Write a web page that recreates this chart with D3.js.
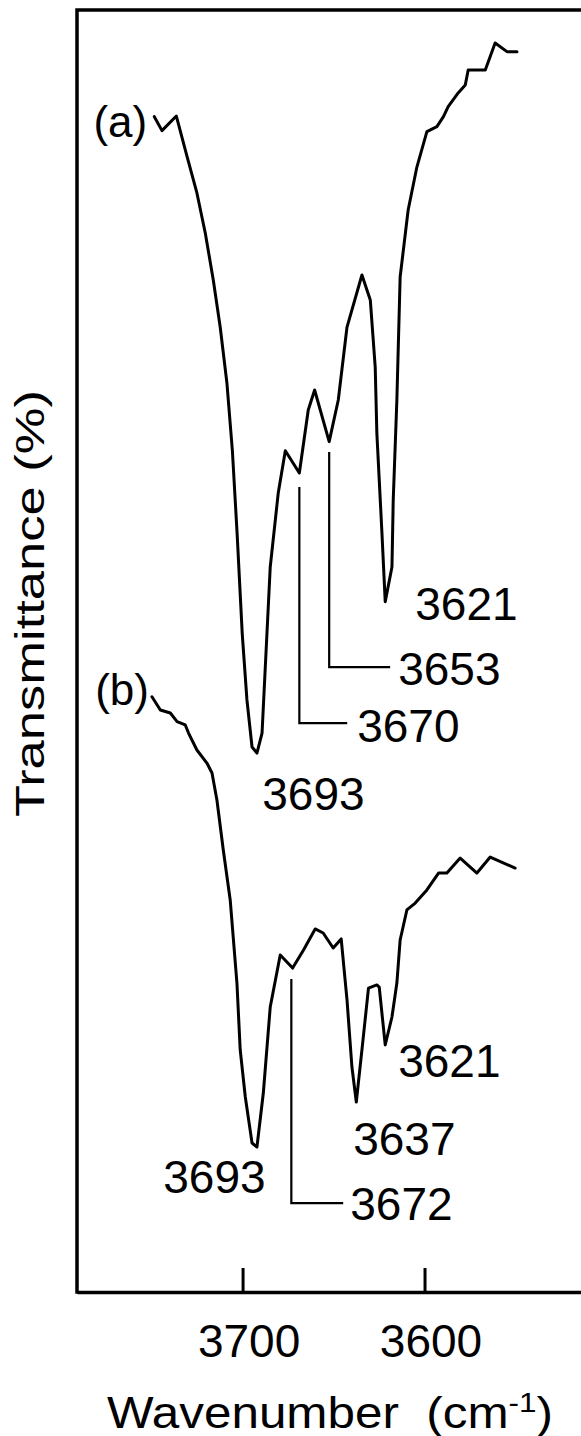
<!DOCTYPE html>
<html>
<head>
<meta charset="utf-8">
<script src="https://cdn.jsdelivr.net/npm/d3@7"></script>
<style>
  html, body { margin: 0; padding: 0; background: #fff; }
  svg { display: block; }
  text { font-family: "Liberation Sans", Arial, sans-serif; fill: #000; }
</style>
</head>
<body>
<svg id="chart" width="581" height="1436"></svg>
<script>
// ---- data (wavenumber in cm-1, transmittance in arbitrary % units) ----
const waveA = [3748.5, 3744.3, 3736.4, 3730.5, 3725.1, 3720.5, 3716.1, 3712.3, 3708.6, 3705.6, 3703.0, 3700.2, 3697.6, 3694.8, 3692.1, 3689.3, 3684.8, 3680.4, 3676.5, 3668.8, 3663.9, 3660.4, 3652.4, 3647.4, 3642.6, 3634.4, 3629.8, 3627.1, 3626.2, 3623.4, 3621.6, 3617.9, 3617.2, 3615.2, 3613.4, 3609.0, 3604.2, 3598.7, 3593.2, 3589.6, 3587.0, 3581.5, 3577.6, 3576.0, 3566.6, 3561.2, 3554.7, 3549.2];
const transA = [91.68, 90.59, 91.73, 88.56, 85.73, 82.61, 78.94, 75.27, 70.90, 65.62, 59.15, 51.38, 46.18, 42.51, 42.04, 43.60, 56.55, 62.32, 65.62, 63.88, 68.80, 70.36, 66.33, 69.58, 75.27, 79.33, 77.38, 72.15, 67.00, 59.20, 53.85, 56.55, 61.78, 69.58, 79.17, 84.40, 87.75, 90.51, 90.90, 91.68, 92.46, 93.53, 94.15, 95.32, 95.32, 97.43, 96.75, 96.75];

const waveB = [3749.8, 3745.2, 3739.7, 3736.0, 3731.5, 3729.7, 3725.1, 3719.6, 3716.8, 3714.1, 3710.6, 3706.8, 3703.1, 3701.3, 3698.5, 3694.8, 3692.1, 3688.6, 3684.8, 3679.3, 3672.5, 3666.5, 3660.1, 3655.7, 3650.2, 3645.8, 3642.6, 3639.9, 3637.5, 3634.4, 3630.8, 3626.2, 3624.9, 3621.6, 3617.9, 3615.2, 3613.4, 3609.7, 3605.1, 3598.7, 3592.3, 3587.7, 3580.4, 3571.2, 3563.9, 3550.2];
const transB = [46.43, 45.40, 45.16, 44.49, 44.23, 43.60, 42.28, 41.26, 40.48, 38.38, 34.48, 30.58, 24.10, 18.88, 15.21, 11.62, 11.31, 15.52, 22.23, 26.29, 25.27, 26.68, 28.32, 28.00, 26.83, 27.54, 22.78, 17.55, 14.82, 18.88, 23.71, 23.95, 23.79, 19.27, 21.45, 24.10, 27.46, 29.80, 30.34, 31.36, 32.68, 32.68, 33.85, 32.68, 33.93, 33.07];

const tickValues = [3700, 3600];
const tickLabels = ["3700", "3600"];

// peak labels
const peakText = ["3621", "3653", "3670", "3693", "3621", "3637", "3693", "3672"];
const peakWave = [3605.1, 3614.5, 3637.0, 3689.2, 3614.5, 3639.2, 3743.6, 3640.8];
const peakTrans = [52.42, 47.35, 42.90, 37.60, 16.77, 10.69, 7.72, 5.62];

// leader lines for the shoulder assignments
const leaderWave = [3652.4, 3668.8, 3673.2];
const leaderTop = [65.52, 62.79, 24.41];
const leaderBottom = [48.75, 44.38, 6.94];
const leaderEnd = [3618.9, 3642.5, 3644.7];

// curve tags
const tagText = ["(a)", "(b)"];
const tagWave = [3782.0, 3781.0];
const tagTrans = [90.09, 45.79];

const xTitle = "Wavenumber";
const yTitle = "Transmittance (%)";

// ---- drawing ----
const svg = d3.select("#chart");
const x = d3.scaleLinear().domain([3791, 3514]).range([77, 581]);
const y = d3.scaleLinear().domain([0, 100]).range([1292, 10]);

// frame: left + top
svg.append("path")
  .attr("d", `M${x.range()[0]},${y(0)}V${y(100)}H${x.range()[1]}`)
  .attr("fill", "none").attr("stroke", "#000").attr("stroke-width", 3.5)
  .attr("stroke-linecap", "square");

// bottom axis
const xAxis = d3.axisBottom(x)
  .tickValues(tickValues)
  .tickFormat((d, i) => tickLabels[i])
  .tickSizeInner(-24)
  .tickSizeOuter(0)
  .tickPadding(32);
const gx = svg.append("g").attr("transform", `translate(0,${y(0)})`).call(xAxis);
gx.select(".domain").attr("stroke-width", 3.5);
gx.selectAll(".tick line").attr("stroke-width", 3);
gx.selectAll(".tick text")
  .attr("font-size", 46)
  .attr("dx", 6)
  .style("font-family", "'Liberation Sans', Arial, sans-serif");

// curves
const line = d3.line().x(d => x(d[0])).y(d => y(d[1])).curve(d3.curveLinear);
const seriesA = waveA.map((w, i) => [w, transA[i]]);
const seriesB = waveB.map((w, i) => [w, transB[i]]);
[seriesA, seriesB].forEach(s => {
  svg.append("path").datum(s)
    .attr("d", line)
    .attr("fill", "none").attr("stroke", "#000").attr("stroke-width", 3)
    .attr("stroke-linejoin", "round").attr("stroke-linecap", "round");
});

// leaders
leaderWave.forEach((w, i) => {
  svg.append("path")
    .attr("d", `M${x(w)},${y(leaderTop[i])}V${y(leaderBottom[i])}H${x(leaderEnd[i])}`)
    .attr("fill", "none").attr("stroke", "#000").attr("stroke-width", 2.2);
});

// peak labels
peakText.forEach((t, i) => {
  svg.append("text")
    .attr("x", x(peakWave[i])).attr("y", y(peakTrans[i]))
    .attr("font-size", 46)
    .text(t);
});

// tags
tagText.forEach((t, i) => {
  svg.append("text")
    .attr("x", x(tagWave[i])).attr("y", y(tagTrans[i]))
    .attr("font-size", 44)
    .text(t);
});

// x title
const xt = svg.append("text")
  .attr("x", 107).attr("y", 1428)
  .attr("font-size", 44)
  .attr("textLength", 446).attr("lengthAdjust", "spacingAndGlyphs");
xt.append("tspan").text(xTitle + "\u00a0\u00a0(cm");
xt.append("tspan").attr("font-size", 28).attr("dy", -16).text("-1");
xt.append("tspan").attr("dy", 16).text(")");

// y title
svg.append("text")
  .attr("transform", "translate(44,817) rotate(-90)")
  .attr("x", 0).attr("y", 0)
  .attr("font-size", 40)
  .attr("textLength", 427).attr("lengthAdjust", "spacingAndGlyphs")
  .text(yTitle);
</script>
</body>
</html>
